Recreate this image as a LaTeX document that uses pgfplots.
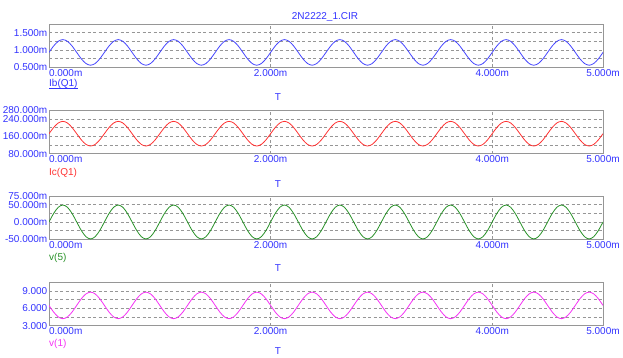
\documentclass[border=0pt]{standalone}
\usepackage{pgfplots}
\usepackage{pgfplotstable}
\pgfplotsset{compat=1.18}
\usepackage{fontspec}
\setmainfont{Liberation Sans}
\definecolor{tickblue}{RGB}{50,50,255}
\definecolor{framegray}{RGB}{150,150,150}
\definecolor{gridgray}{RGB}{150,150,150}
\definecolor{ibcol}{RGB}{70,70,255}
\definecolor{iccol}{RGB}{255,50,50}
\definecolor{v5col}{RGB}{40,145,40}
\definecolor{v1col}{RGB}{245,50,245}

\pgfplotstableread{
t ib ic v5 v1
0.0000 0.930 172.0 0.0 6.50
0.0417 1.115 200.5 24.5 5.35
0.0833 1.250 221.4 42.4 4.51
0.1250 1.300 229.0 49.0 4.20
0.1667 1.250 221.4 42.4 4.51
0.2083 1.115 200.5 24.5 5.35
0.2500 0.930 172.0 0.0 6.50
0.2917 0.745 143.5 -24.5 7.65
0.3333 0.610 122.6 -42.4 8.49
0.3750 0.560 115.0 -49.0 8.80
0.4167 0.610 122.6 -42.4 8.49
0.4583 0.745 143.5 -24.5 7.65
0.5000 0.930 172.0 0.0 6.50
0.5417 1.115 200.5 24.5 5.35
0.5833 1.250 221.4 42.4 4.51
0.6250 1.300 229.0 49.0 4.20
0.6667 1.250 221.4 42.4 4.51
0.7083 1.115 200.5 24.5 5.35
0.7500 0.930 172.0 0.0 6.50
0.7917 0.745 143.5 -24.5 7.65
0.8333 0.610 122.6 -42.4 8.49
0.8750 0.560 115.0 -49.0 8.80
0.9167 0.610 122.6 -42.4 8.49
0.9583 0.745 143.5 -24.5 7.65
1.0000 0.930 172.0 0.0 6.50
1.0417 1.115 200.5 24.5 5.35
1.0833 1.250 221.4 42.4 4.51
1.1250 1.300 229.0 49.0 4.20
1.1667 1.250 221.4 42.4 4.51
1.2083 1.115 200.5 24.5 5.35
1.2500 0.930 172.0 0.0 6.50
1.2917 0.745 143.5 -24.5 7.65
1.3333 0.610 122.6 -42.4 8.49
1.3750 0.560 115.0 -49.0 8.80
1.4167 0.610 122.6 -42.4 8.49
1.4583 0.745 143.5 -24.5 7.65
1.5000 0.930 172.0 0.0 6.50
1.5417 1.115 200.5 24.5 5.35
1.5833 1.250 221.4 42.4 4.51
1.6250 1.300 229.0 49.0 4.20
1.6667 1.250 221.4 42.4 4.51
1.7083 1.115 200.5 24.5 5.35
1.7500 0.930 172.0 0.0 6.50
1.7917 0.745 143.5 -24.5 7.65
1.8333 0.610 122.6 -42.4 8.49
1.8750 0.560 115.0 -49.0 8.80
1.9167 0.610 122.6 -42.4 8.49
1.9583 0.745 143.5 -24.5 7.65
2.0000 0.930 172.0 0.0 6.50
2.0417 1.115 200.5 24.5 5.35
2.0833 1.250 221.4 42.4 4.51
2.1250 1.300 229.0 49.0 4.20
2.1667 1.250 221.4 42.4 4.51
2.2083 1.115 200.5 24.5 5.35
2.2500 0.930 172.0 0.0 6.50
2.2917 0.745 143.5 -24.5 7.65
2.3333 0.610 122.6 -42.4 8.49
2.3750 0.560 115.0 -49.0 8.80
2.4167 0.610 122.6 -42.4 8.49
2.4583 0.745 143.5 -24.5 7.65
2.5000 0.930 172.0 0.0 6.50
2.5417 1.115 200.5 24.5 5.35
2.5833 1.250 221.4 42.4 4.51
2.6250 1.300 229.0 49.0 4.20
2.6667 1.250 221.4 42.4 4.51
2.7083 1.115 200.5 24.5 5.35
2.7500 0.930 172.0 0.0 6.50
2.7917 0.745 143.5 -24.5 7.65
2.8333 0.610 122.6 -42.4 8.49
2.8750 0.560 115.0 -49.0 8.80
2.9167 0.610 122.6 -42.4 8.49
2.9583 0.745 143.5 -24.5 7.65
3.0000 0.930 172.0 0.0 6.50
3.0417 1.115 200.5 24.5 5.35
3.0833 1.250 221.4 42.4 4.51
3.1250 1.300 229.0 49.0 4.20
3.1667 1.250 221.4 42.4 4.51
3.2083 1.115 200.5 24.5 5.35
3.2500 0.930 172.0 0.0 6.50
3.2917 0.745 143.5 -24.5 7.65
3.3333 0.610 122.6 -42.4 8.49
3.3750 0.560 115.0 -49.0 8.80
3.4167 0.610 122.6 -42.4 8.49
3.4583 0.745 143.5 -24.5 7.65
3.5000 0.930 172.0 0.0 6.50
3.5417 1.115 200.5 24.5 5.35
3.5833 1.250 221.4 42.4 4.51
3.6250 1.300 229.0 49.0 4.20
3.6667 1.250 221.4 42.4 4.51
3.7083 1.115 200.5 24.5 5.35
3.7500 0.930 172.0 0.0 6.50
3.7917 0.745 143.5 -24.5 7.65
3.8333 0.610 122.6 -42.4 8.49
3.8750 0.560 115.0 -49.0 8.80
3.9167 0.610 122.6 -42.4 8.49
3.9583 0.745 143.5 -24.5 7.65
4.0000 0.930 172.0 0.0 6.50
4.0417 1.115 200.5 24.5 5.35
4.0833 1.250 221.4 42.4 4.51
4.1250 1.300 229.0 49.0 4.20
4.1667 1.250 221.4 42.4 4.51
4.2083 1.115 200.5 24.5 5.35
4.2500 0.930 172.0 0.0 6.50
4.2917 0.745 143.5 -24.5 7.65
4.3333 0.610 122.6 -42.4 8.49
4.3750 0.560 115.0 -49.0 8.80
4.4167 0.610 122.6 -42.4 8.49
4.4583 0.745 143.5 -24.5 7.65
4.5000 0.930 172.0 0.0 6.50
4.5417 1.115 200.5 24.5 5.35
4.5833 1.250 221.4 42.4 4.51
4.6250 1.300 229.0 49.0 4.20
4.6667 1.250 221.4 42.4 4.51
4.7083 1.115 200.5 24.5 5.35
4.7500 0.930 172.0 0.0 6.50
4.7917 0.745 143.5 -24.5 7.65
4.8333 0.610 122.6 -42.4 8.49
4.8750 0.560 115.0 -49.0 8.80
4.9167 0.610 122.6 -42.4 8.49
4.9583 0.745 143.5 -24.5 7.65
5.0000 0.930 172.0 0.0 6.50
}\simdata

\pgfplotsset{
  panel/.style={
    width=554pt, height=43.3pt, scale only axis,
    anchor=north west,
    xmin=0, xmax=5,
    xtick={0,2,4,5},
    xticklabels={\makebox[0pt][l]{0.000m},2.000m,4.000m,5.000m},
    xmajorgrids, ymajorgrids,
    grid style={color=gridgray, line width=0.7pt, dash pattern=on 3pt off 2.5pt},
    axis line style={color=framegray, line width=0.8pt},
    major tick length=0pt,
    tick label style={font=\fontsize{10}{12}\selectfont, text=tickblue},
    xticklabel style={anchor=north, inner sep=1pt, yshift=-1pt},
    yticklabel style={anchor=east, inner sep=1pt, xshift=-0.5pt},
  },
}

\begin{document}
\begin{tikzpicture}
\path[use as bounding box] (0pt,0pt) rectangle (623pt,-357pt);

\begin{axis}[panel, at={(49pt,-24pt)},
  ymin=0.5, ymax=1.75, ytick={0.5,0.75,1,1.25,1.5,1.75},
  yticklabels={0.500m,,1.000m,,1.500m,}]
\addplot[ibcol, line width=0.8pt, smooth, no markers] table[x=t, y=ib] {\simdata};
\end{axis}

\begin{axis}[panel, at={(49pt,-110.3pt)},
  ymin=80, ymax=280, ytick={80,120,160,200,240,280},
  yticklabels={80.000m,,160.000m,,240.000m,280.000m}]
\addplot[iccol, line width=0.8pt, smooth, no markers] table[x=t, y=ic] {\simdata};
\end{axis}

\begin{axis}[panel, at={(49pt,-196pt)},
  ymin=-50, ymax=75, ytick={-50,-25,0,25,50,75},
  yticklabels={-50.000m,,0.000m,,50.000m,75.000m}]
\addplot[v5col, line width=0.8pt, smooth, no markers] table[x=t, y=v5] {\simdata};
\end{axis}

\begin{axis}[panel, at={(49pt,-282.3pt)},
  ymin=3, ymax=10.5, ytick={3,4.5,6,7.5,9,10.5},
  yticklabels={3.000,,6.000,,9.000,}]
\addplot[v1col, line width=0.8pt, smooth, no markers] table[x=t, y=v1] {\simdata};
\end{axis}

\begin{scope}[every node/.style={font=\fontsize{10}{12}\selectfont, inner sep=0pt}]
\node[text=tickblue] at (325pt,-17pt) {2N2222\_1.CIR};
\node[text=tickblue, anchor=west] at (49pt,-84pt) {\setbox0\hbox{Ib(Q1)}\dp0=0pt\underline{\box0}};
\node[text=iccol, anchor=west] at (49pt,-172.5pt) {Ic(Q1)};
\node[text=v5col, anchor=west] at (49pt,-258pt) {v(5)};
\node[text=v1col, anchor=west] at (49pt,-344pt) {v(1)};
\node[text=tickblue] at (278pt,-97.5pt) {T};
\node[text=tickblue] at (278pt,-184pt) {T};
\node[text=tickblue] at (278pt,-268.5pt) {T};
\node[text=tickblue] at (278pt,-351.5pt) {T};
\end{scope}
\end{tikzpicture}
\end{document}
